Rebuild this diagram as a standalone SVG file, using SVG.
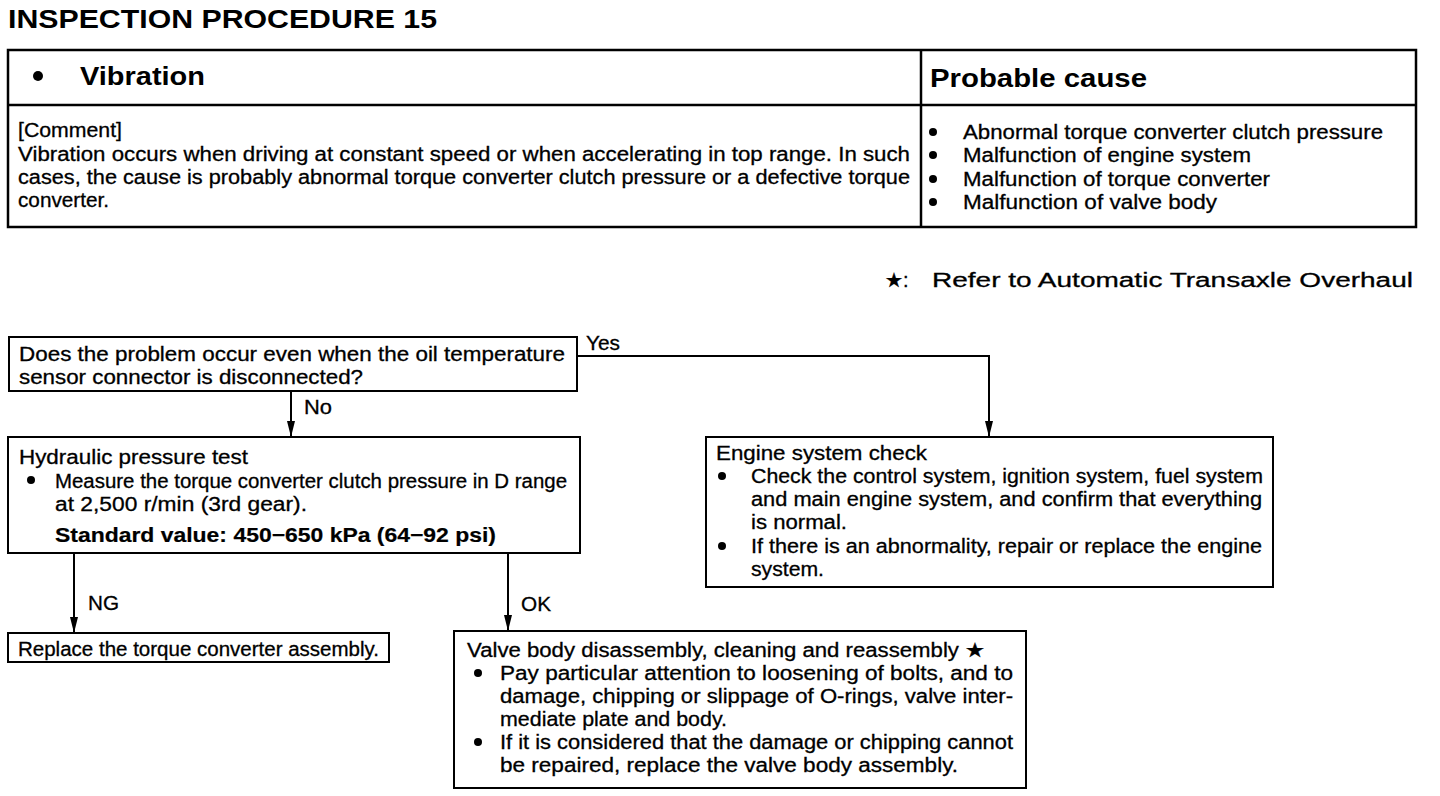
<svg xmlns="http://www.w3.org/2000/svg" width="1440" height="796" viewBox="0 0 1440 796">
<style>
text{font-family:"Liberation Sans",Arial,Helvetica,sans-serif;fill:#000}
.t{font-size:20px;stroke:#000;stroke-width:0.3}
.b{font-weight:bold;stroke-width:0.2}
.h{font-size:26px;font-weight:bold}
.box{fill:#fff;stroke:#000;stroke-width:2}
.tbl{fill:none;stroke:#000;stroke-width:2.5}
.ln{fill:none;stroke:#000;stroke-width:2}
.dot{fill:#000}
</style>
<defs>
<marker id="ah" viewBox="0 0 16 8" refX="16" refY="4" markerWidth="16" markerHeight="8" markerUnits="userSpaceOnUse" orient="auto">
<path d="M0,0 L16,4 L0,8 Z" fill="#000"/>
</marker>
</defs>
<rect width="1440" height="796" fill="#fff"/>

<g id="title">
<text x="8" y="28" class="h" font-size="26" textLength="429" lengthAdjust="spacingAndGlyphs">INSPECTION PROCEDURE 15</text>
</g>

<g id="table">
<rect x="8" y="50" width="1408" height="177" class="tbl"/>
<line x1="8" y1="105" x2="1416" y2="105" class="tbl"/>
<line x1="921" y1="50" x2="921" y2="227" class="tbl"/>
<circle cx="38" cy="76" r="5" class="dot"/>
<text x="80" y="85" class="h" textLength="125" lengthAdjust="spacingAndGlyphs">Vibration</text>
<text x="930" y="87" class="h" textLength="217" lengthAdjust="spacingAndGlyphs">Probable cause</text>
<text x="18" y="137" class="t" textLength="104" lengthAdjust="spacingAndGlyphs">[Comment]</text>
<text x="18" y="161" class="t" textLength="892" lengthAdjust="spacingAndGlyphs">Vibration occurs when driving at constant speed or when accelerating in top range.  In such</text>
<text x="18" y="184" class="t" textLength="892" lengthAdjust="spacingAndGlyphs">cases, the cause is probably abnormal torque converter clutch pressure or a defective torque</text>
<text x="18" y="207" class="t" textLength="91" lengthAdjust="spacingAndGlyphs">converter.</text>
<circle cx="933" cy="132" r="4" class="dot"/>
<circle cx="933" cy="155" r="4" class="dot"/>
<circle cx="933" cy="179" r="4" class="dot"/>
<circle cx="933" cy="202" r="4" class="dot"/>
<text x="963" y="139" class="t" textLength="420" lengthAdjust="spacingAndGlyphs">Abnormal torque converter clutch pressure</text>
<text x="963" y="162" class="t" textLength="288" lengthAdjust="spacingAndGlyphs">Malfunction of engine system</text>
<text x="963" y="186" class="t" textLength="307" lengthAdjust="spacingAndGlyphs">Malfunction of torque converter</text>
<text x="963" y="209" class="t" textLength="254" lengthAdjust="spacingAndGlyphs">Malfunction of valve body</text>
</g>

<g id="note">
<text x="885" y="287" class="t" font-size="22">★:</text>
<text x="932" y="287" class="t" font-size="22" textLength="481" lengthAdjust="spacingAndGlyphs">Refer to Automatic Transaxle Overhaul</text>
</g>

<g id="connectors">
<polyline points="577,356 989,356 989,437" class="ln" marker-end="url(#ah)"/>
<line x1="291" y1="391" x2="291" y2="437" class="ln" marker-end="url(#ah)"/>
<line x1="74" y1="553" x2="74" y2="633" class="ln" marker-end="url(#ah)"/>
<line x1="508" y1="553" x2="508" y2="631" class="ln" marker-end="url(#ah)"/>
<text x="586" y="350" class="t" textLength="34" lengthAdjust="spacingAndGlyphs">Yes</text>
<text x="304" y="414" class="t" textLength="28" lengthAdjust="spacingAndGlyphs">No</text>
<text x="88" y="610" class="t" textLength="31" lengthAdjust="spacingAndGlyphs">NG</text>
<text x="521" y="611" class="t" textLength="30" lengthAdjust="spacingAndGlyphs">OK</text>
</g>

<g id="q1">
<rect x="9" y="337" width="568" height="54" class="box"/>
<text x="19" y="361" class="t" textLength="546" lengthAdjust="spacingAndGlyphs">Does the problem occur even when the oil temperature</text>
<text x="19" y="384" class="t" textLength="344" lengthAdjust="spacingAndGlyphs">sensor connector is disconnected?</text>
</g>

<g id="hydraulic">
<rect x="8" y="437" width="572" height="116" class="box"/>
<text x="19" y="464" class="t" textLength="229" lengthAdjust="spacingAndGlyphs">Hydraulic pressure test</text>
<circle cx="31" cy="480" r="4" class="dot"/>
<text x="55" y="488" class="t" textLength="512" lengthAdjust="spacingAndGlyphs">Measure the torque converter clutch pressure in D range</text>
<text x="55" y="511" class="t" textLength="252" lengthAdjust="spacingAndGlyphs">at 2,500 r/min (3rd gear).</text>
<text x="55" y="542" class="t b" textLength="441" lengthAdjust="spacingAndGlyphs">Standard value: 450−650 kPa (64−92 psi)</text>
</g>

<g id="engine">
<rect x="706" y="437" width="567" height="150" class="box"/>
<text x="716" y="460" class="t" textLength="211" lengthAdjust="spacingAndGlyphs">Engine system check</text>
<circle cx="722" cy="476" r="4" class="dot"/>
<text x="751" y="483" class="t" textLength="512" lengthAdjust="spacingAndGlyphs">Check the control system, ignition system, fuel system</text>
<text x="751" y="506" class="t" textLength="511" lengthAdjust="spacingAndGlyphs">and main engine system, and confirm that everything</text>
<text x="751" y="529" class="t" textLength="96" lengthAdjust="spacingAndGlyphs">is normal.</text>
<circle cx="722" cy="546" r="4" class="dot"/>
<text x="751" y="553" class="t" textLength="511" lengthAdjust="spacingAndGlyphs">If there is an abnormality, repair or replace the engine</text>
<text x="751" y="576" class="t" textLength="73" lengthAdjust="spacingAndGlyphs">system.</text>
</g>

<g id="replace">
<rect x="8" y="633" width="381" height="29" class="box"/>
<text x="18" y="656" class="t" textLength="361" lengthAdjust="spacingAndGlyphs">Replace the torque converter assembly.</text>
</g>

<g id="valve">
<rect x="454" y="631" width="572" height="157" class="box"/>
<text x="467" y="657" class="t" textLength="518" lengthAdjust="spacingAndGlyphs">Valve body disassembly, cleaning and reassembly ★</text>
<circle cx="478" cy="673" r="4" class="dot"/>
<text x="500" y="680" class="t" textLength="513" lengthAdjust="spacingAndGlyphs">Pay particular attention to loosening of bolts, and to</text>
<text x="500" y="703" class="t" textLength="513" lengthAdjust="spacingAndGlyphs">damage, chipping or slippage of O-rings, valve inter-</text>
<text x="500" y="726" class="t" textLength="227" lengthAdjust="spacingAndGlyphs">mediate plate and body.</text>
<circle cx="478" cy="742" r="4" class="dot"/>
<text x="500" y="749" class="t" textLength="513" lengthAdjust="spacingAndGlyphs">If it is considered that the damage or chipping cannot</text>
<text x="500" y="772" class="t" textLength="458" lengthAdjust="spacingAndGlyphs">be repaired, replace the valve body assembly.</text>
</g>
</svg>
